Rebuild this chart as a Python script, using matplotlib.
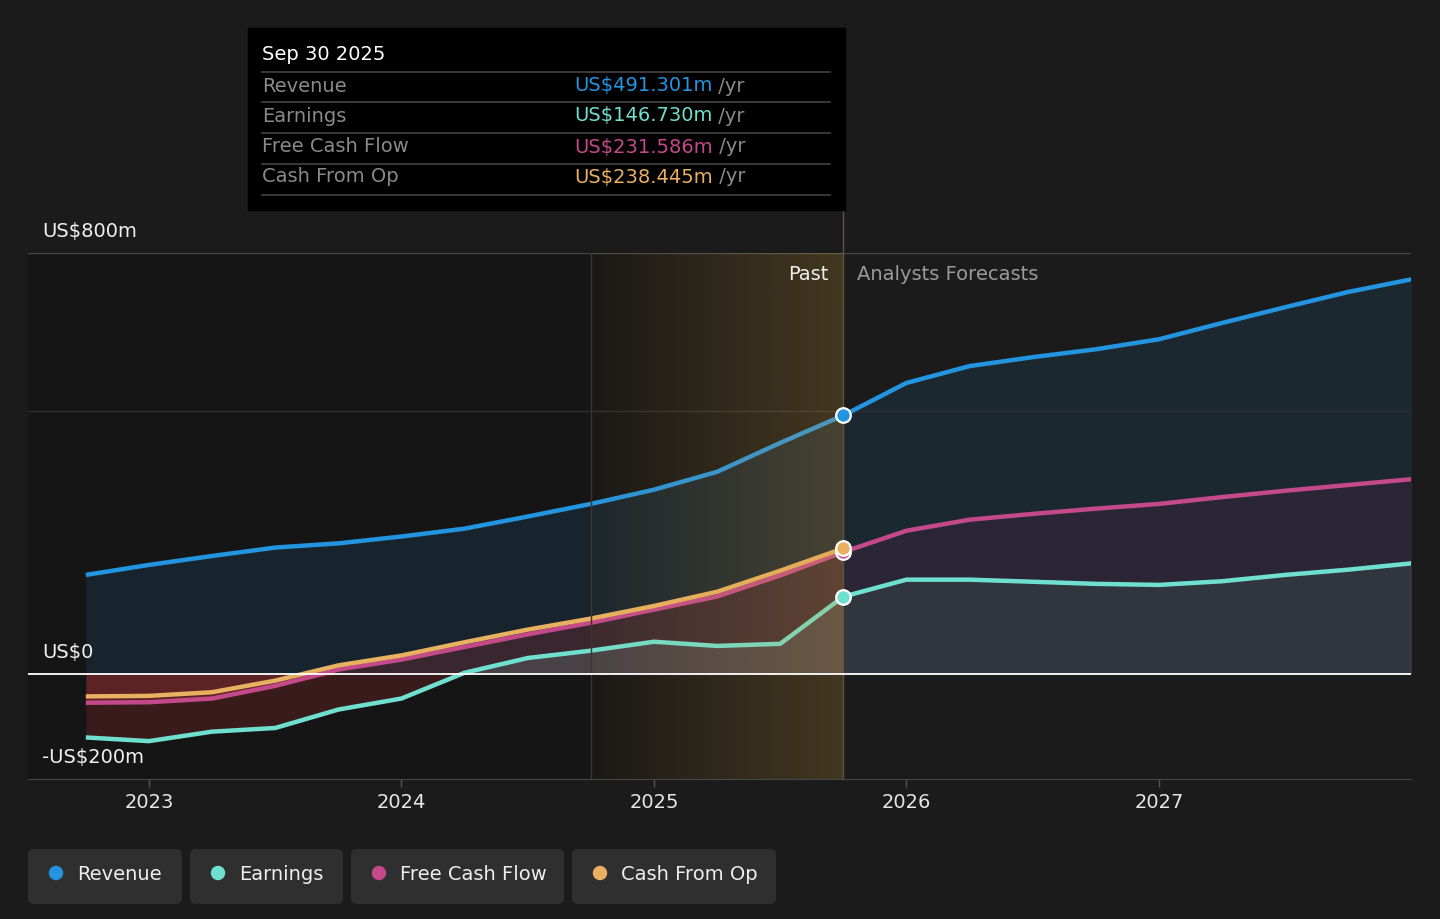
import numpy as np
import matplotlib
matplotlib.use("Agg")
import matplotlib.pyplot as plt
from matplotlib.patches import FancyBboxPatch, Rectangle, Circle

# ---- data (US$ m, trailing twelve months) ----
past_x = [2022.75, 2023.0, 2023.25, 2023.5, 2023.75, 2024.0, 2024.25,
          2024.5, 2024.75, 2025.0, 2025.25, 2025.5, 2025.75]
revenue_past = [188, 207, 224, 240, 248, 261, 276, 299, 323, 350, 384, 439, 491.301]
earnings_past = [-121, -128, -110, -103, -68, -47, 2, 30, 44, 61, 53, 57, 146.730]
fcf_past = [-55, -54, -47, -23, 8, 27, 51, 75, 97, 122, 147, 187, 231.586]
cfo_past = [-43, -42, -35, -13, 16, 35, 60, 84, 105, 129, 156, 196, 238.445]

fc_x = [2025.75, 2026.0, 2026.25, 2026.5, 2026.75, 2027.0, 2027.25,
        2027.5, 2027.75, 2028.0]
revenue_fc = [491.301, 553, 585, 602, 617, 636, 667, 697, 726, 750]
earnings_fc = [146.730, 179, 179, 175, 171, 169, 176, 188, 198, 210]
fcf_fc = [231.586, 272, 293, 304, 314, 323, 336, 348, 359, 370]

year_ticks = [2023, 2024, 2025, 2026, 2027]
tooltip_date = "Sep 30 2025"
names = ["Revenue", "Earnings", "Free Cash Flow", "Cash From Op"]
latest = [491.301, 146.730, 231.586, 238.445]

c_rev = "#2394df"
c_earn = "#6fe0d0"
c_fcf = "#c4498a"
c_cfo = "#e8b060"
colors = [c_rev, c_earn, c_fcf, c_cfo]
bg = "#1b1b1b"
fs = 14

plt.rcParams['font.family'] = ['DejaVu Sans']

fig = plt.figure(figsize=(14.4, 9.19), dpi=100, facecolor=bg)
ax = fig.add_axes([28 / 1440, 1 - 779 / 919, (1411 - 28) / 1440, (779 - 253) / 919])
ax.set_facecolor(bg)
x0, x1 = 2022.521, 2027.998
ax.set_xlim(x0, x1)
ax.set_ylim(-200, 800)

now = past_x[-1]
hl_start = now - 1.0

# darker past background
ax.axvspan(x0, now, color="#151515", zorder=0, lw=0)

px = np.array(past_x)
fx = np.array(fc_x)
rp, ep, fp, cp = map(np.array, (revenue_past, earnings_past, fcf_past, cfo_past))
rf, ef, ff = map(np.array, (revenue_fc, earnings_fc, fcf_fc))

# past fills
ax.fill_between(px, 0, rp, color="#1e3c52", alpha=0.4, lw=0, zorder=1)
ax.fill_between(px, 0, np.maximum(fp, 0), color="#c0303a", alpha=0.2, lw=0, zorder=1)
ax.fill_between(px, np.minimum(fp, 0), 0, color="#c03840", alpha=0.27, lw=0, zorder=1)
ax.fill_between(px, 0, np.maximum(ep, 0), color="#9ee0d0", alpha=0.15, lw=0, zorder=1)
ax.fill_between(px, np.minimum(ep, 0), 0, color="#b03030", alpha=0.24, lw=0, zorder=1)

# forecast fills
ax.fill_between(fx, 0, rf, color="#1e3c52", alpha=0.4, lw=0, zorder=1)
ax.fill_between(fx, 0, ff, color="#6a1f50", alpha=0.18, lw=0, zorder=1)
ax.fill_between(fx, 0, ef, color="#60a080", alpha=0.13, lw=0, zorder=1)

# grid lines
ax.axhline(800, color="#464646", lw=1, zorder=2)
ax.axhline(500, color="#2e2e2e", lw=1, zorder=2)
ax.axhline(0, color="#ffffff", lw=1.3, zorder=4)

# lines
kw = dict(lw=3.2, solid_capstyle="butt", solid_joinstyle="round", zorder=3)
ax.plot(px, rp, color=c_rev, **kw)
ax.plot(fx, rf, color=c_rev, **kw)
ax.plot(px, ep, color=c_earn, **kw)
ax.plot(fx, ef, color=c_earn, **kw)
ax.plot(px, fp, color=c_fcf, **kw)
ax.plot(fx, ff, color=c_fcf, **kw)
ax.plot(px, cp, color=c_cfo, **kw)

# past-year highlight gradient (over the lines)
grad = np.zeros((2, 256, 4))
grad[..., 0] = 212 / 255
grad[..., 1] = 160 / 255
grad[..., 2] = 64 / 255
grad[..., 3] = np.linspace(0.03, 0.25, 256)[None, :]
ax.imshow(grad, extent=[hl_start, now, -200, 800], aspect="auto",
          interpolation="bilinear", zorder=3.5)
ax.axvline(hl_start, color="#3e3628", lw=1, zorder=3.6)
ax.plot([now, now], [-200, 882], color="#5e5240", lw=1, zorder=3.6, clip_on=False)

# markers at latest point
for val, col in zip(latest, colors):
    ax.plot([now], [val], "o", ms=10.5, mfc=col, mec="white", mew=1.6, zorder=6)

ax.text(now - 0.06, 760, "Past", color="#eeeeee", fontsize=fs, ha="right", va="center", zorder=7)
ax.text(now + 0.055, 760, "Analysts Forecasts", color="#9a9a9a", fontsize=fs, ha="left", va="center", zorder=7)

# axes cosmetics
for s in ["top", "right", "left"]:
    ax.spines[s].set_visible(False)
ax.spines["bottom"].set_color("#464646")
ax.spines["bottom"].set_zorder(5)
ax.set_yticks([])
ax.set_xticks(year_ticks)
ax.set_xticklabels([str(y) for y in year_ticks])
ax.tick_params(axis="x", colors="#555555", length=6, width=1, labelcolor="#e6e6e6",
               labelsize=fs, pad=4)

# y labels inside the plot
for val, lab in [(800, "US$800m"), (0, "US$0"), (-200, "-US$200m")]:
    ax.annotate(lab, xy=(x0, val), xytext=(14, 21), textcoords="offset pixels",
                color="#f0f0f0", fontsize=fs, ha="left", va="center", zorder=7)

# ---- overlay in pixel coordinates for tooltip and legend ----
ov = fig.add_axes([0, 0, 1, 1], facecolor="none")
ov.set_xlim(0, 1440)
ov.set_ylim(919, 0)
ov.axis("off")

ov.add_patch(Rectangle((248, 28), 597, 182, color="#000000", zorder=1))
ov.text(262, 55, tooltip_date, color="#ffffff", fontsize=fs, va="center", zorder=2)
row_y = [86, 116, 147, 177]
for yy in [72, 102, 133, 164, 195]:
    ov.plot([262, 830], [yy, yy], color="#444444", lw=1.2, zorder=2)
for yy, name, val, col in zip(row_y, names, latest, colors):
    ov.text(262, yy, name, color="#8a8a8a", fontsize=fs, va="center", zorder=2)
    t = ov.text(574, yy, f"US${val:.3f}m", color=col, fontsize=fs, va="center", zorder=2)
    ov.annotate(" /yr", xycoords=t, xy=(1, 0.5), va="center", ha="left",
                color="#8a8a8a", fontsize=fs, zorder=2)

boxes = [(28, 182), (190, 343), (351, 564), (572, 776)]
for (bx0, bx1), name, col in zip(boxes, names, colors):
    ov.add_patch(FancyBboxPatch((bx0 + 5, 854), bx1 - bx0 - 10, 45,
                                boxstyle="round,pad=5,rounding_size=6",
                                fc="#2f2f2f", ec="none", zorder=1))
    ov.add_patch(Circle((bx0 + 28, 873), 6.5, color=col, zorder=2))
    ov.text(bx0 + 49, 874, name, color="#eeeeee", fontsize=fs, va="center", zorder=2)

fig.savefig("out.png", dpi=100, facecolor=bg)
